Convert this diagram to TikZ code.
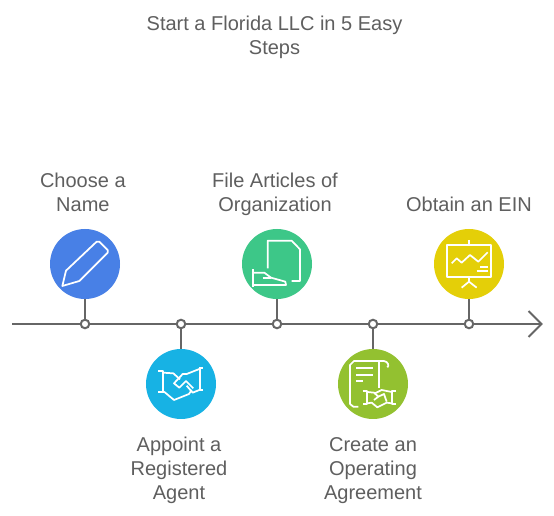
\documentclass[tikz,border=0pt]{standalone}
\usepackage{fontspec}
\setmainfont{Liberation Sans}
\usetikzlibrary{positioning}
\definecolor{axisgray}{HTML}{666666}
\definecolor{txtgray}{HTML}{5F5F5F}
\tikzset{
  axisline/.style={axisgray,line width=1.5pt},
  stepdot/.style={circle,draw=axisgray,fill=white,line width=1.5pt,minimum size=6.4pt,inner sep=0pt},
  stepdisc/.style={circle,minimum size=52.5pt,inner sep=0pt},
  steplbl/.style={font=\fontsize{15pt}{18pt}\selectfont,text=txtgray,align=center,
    inner sep=0pt,execute at begin node=\strut,execute at end node=\strut},
  icon/.style={draw=white,line width=1.3pt,line join=round},
  zoomed/.style={x=0.25pt,y=-0.25pt},
}
\begin{document}
\begin{tikzpicture}[x=0.75pt,y=-0.75pt]
  \useasboundingbox (0,0) rectangle (554,516);
  \fill[white] (0,0) rectangle (554,516);
  % title
  \node[steplbl] (title) at (274.5,38.5) {Start a Florida LLC in 5 Easy\\Steps};
  % axis
  \coordinate (axstart) at (12,324);
  \coordinate (axend) at (541.5,324);
  \coordinate (headup) at (528.5,311);
  \coordinate (headdn) at (528.5,337);
  \draw[axisline] (axstart) -- (axend);
  \draw[axisline,line join=miter] (headup) -- (axend) -- (headdn);
  % discs
  \node[stepdisc,fill={rgb,255:red,72;green,128;blue,230}] (name) at (85,264) {};
  \node[stepdisc,fill={rgb,255:red,23;green,178;blue,228}] (agent) at (181,384) {};
  \node[stepdisc,fill={rgb,255:red,61;green,199;blue,136}] (articles) at (277,264) {};
  \node[stepdisc,fill={rgb,255:red,147;green,193;blue,48}] (operating) at (373,384) {};
  \node[stepdisc,fill={rgb,255:red,228;green,207;blue,8}] (ein) at (469,264) {};
  % dots on the axis
  \foreach \n/\x in {dname/85,dagent/181,darticles/277,doperating/373,dein/469}
    \node[stepdot] (\n) at (\x,324) {};
  \draw[axisline] (name) -- (dname);
  \draw[axisline] (agent) -- (dagent);
  \draw[axisline] (articles) -- (darticles);
  \draw[axisline] (operating) -- (doperating);
  \draw[axisline] (ein) -- (dein);
  % labels
  \node[steplbl,above=7pt of name,xshift=-1.6pt] (lname) {Choose a\\Name};
  \node[steplbl,below=13.4pt of agent,xshift=-1.5pt] (lagent) {Appoint a\\Registered\\Agent};
  \node[steplbl,above=7pt of articles,xshift=-1.5pt] (larticles) {File Articles of\\Organization};
  \node[steplbl,below=13.4pt of operating] (loperating) {Create an\\Operating\\Agreement};
  \node[steplbl,above=7pt of ein] (lein) {Obtain an EIN};
  % pencil
  \begin{scope}[shift={(40,220)},zoomed]
    \draw[icon] (67,198) -- (78,152) -- (170,65) -- (178,65) -- (203,90)
      -- (203,98) -- (118,183) -- cycle;
    % handshake
    \draw[icon] (355,453) -- (368,453) -- (368,515) (355,515) -- (372,515);
    \draw[icon] (478,443) -- (490,443) (481,443) -- (481,510) (478,510) -- (490,510);
    \draw[icon] (368,458) -- (400,460) -- (420,478);
    \draw[icon] (478,447) -- (440,462) -- (428,462) -- (402,490) -- (418,503)
      -- (438,483) -- (460,505);
    \draw[icon] (372,515) -- (402,540) -- (447,522) -- (455,510);
    \draw[icon] (440,497) -- (458,518) -- (478,510);
  \end{scope}
  \begin{scope}[shift={(230,220)},zoomed]
    % document and hand
    \draw[icon] (113,145) -- (113,62) -- (185,62) -- (210,88) -- (210,183) -- (185,183);
    \draw[icon] (70,148) -- (70,202);
    \draw[icon] (70,158) -- (103,158) -- (123,173) -- (166,185) -- (168,195) -- (70,195);
    \draw[icon] (98,173) -- (123,173);
    % scroll
    \draw[icon] (385,560) -- (370,560) -- (360,552) -- (360,435) -- (372,423) -- (462,423)
      .. controls (475,425) and (478,438) .. (472,442);
    \draw[icon] (448,423) -- (448,505);
    \draw[icon] (378,445) -- (428,445) (378,464) -- (428,464) (378,482) -- (400,482);
    % small handshake
    \draw[icon] (398,512) -- (412,512) -- (412,552) -- (398,552);
    \draw[icon] (498,512) -- (485,512) -- (485,552) -- (498,552);
    \draw[icon] (412,516) -- (432,518) -- (445,530) -- (432,540);
    \draw[icon] (485,516) -- (455,510) -- (435,520);
    \draw[icon] (412,550) -- (425,548) -- (442,562) -- (470,548) -- (485,550);
    \draw[icon] (445,530) -- (462,522) -- (470,545);
  \end{scope}
  \begin{scope}[shift={(420,220)},zoomed]
    % chart board
    \draw[icon] (80,75) rectangle (213,170);
    \draw[icon] (147,60) -- (147,75) (147,170) -- (147,185);
    \draw[icon] (125,203) -- (147,185) -- (170,203);
    \draw[icon] (95,130) -- (110,115) -- (125,128) -- (150,105) -- (175,125) -- (203,97);
    \draw[icon] (180,140) -- (203,140) (170,152) -- (203,152);
  \end{scope}
\end{tikzpicture}
\end{document}
